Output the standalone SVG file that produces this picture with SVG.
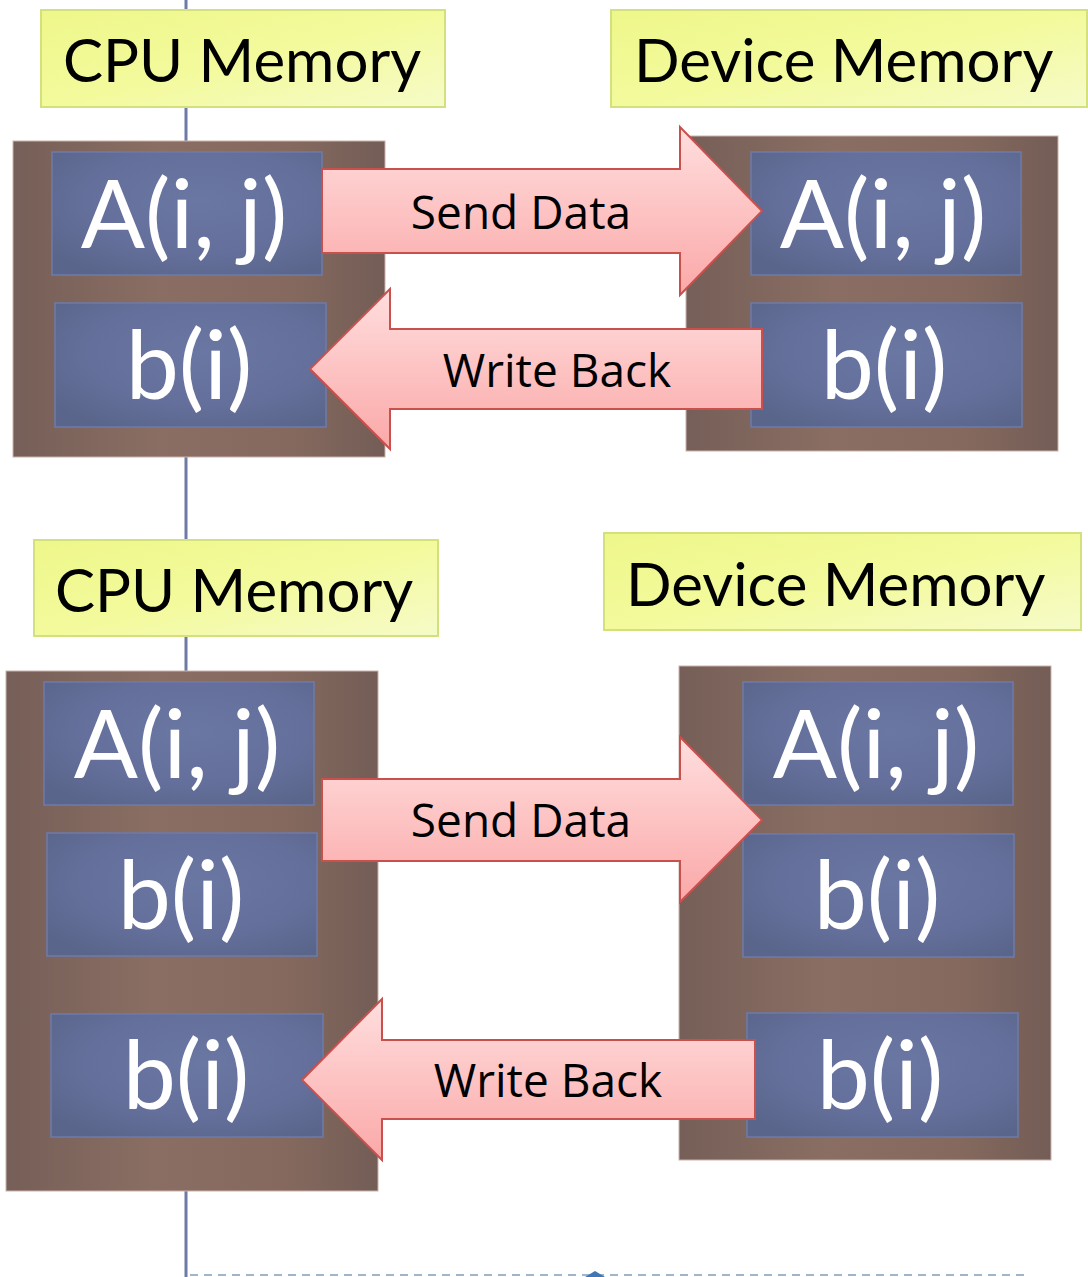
<svg xmlns="http://www.w3.org/2000/svg" width="1088" height="1277" viewBox="0 0 1088 1277">
<defs>
  <linearGradient id="gYellow" x1="0" y1="0" x2="1" y2="1">
    <stop offset="0" stop-color="#eef78a"/>
    <stop offset="0.5" stop-color="#f3fa9c"/>
    <stop offset="1" stop-color="#f6fbc8"/>
  </linearGradient>
  <linearGradient id="gBrown" x1="0" y1="0" x2="1" y2="0">
    <stop offset="0" stop-color="#765f58"/>
    <stop offset="0.4" stop-color="#8a6e63"/>
    <stop offset="0.75" stop-color="#85695e"/>
    <stop offset="1" stop-color="#735d56"/>
  </linearGradient>
  <radialGradient id="gBlue" cx="0.55" cy="0.4" r="0.7">
    <stop offset="0" stop-color="#6b77a3"/>
    <stop offset="0.6" stop-color="#64709b"/>
    <stop offset="1" stop-color="#5a658b"/>
  </radialGradient>
  <linearGradient id="gPink" x1="0" y1="0" x2="0" y2="1">
    <stop offset="0" stop-color="#ffdede"/>
    <stop offset="1" stop-color="#fba8a8"/>
  </linearGradient>
</defs>
<style>
  .label rect { fill: url(#gYellow); stroke: #d3e07c; stroke-width: 2; }
  .label text { font-family: Lato, "Open Sans", "DejaVu Sans", sans-serif; font-size: 60px; fill: #000; }
  .mem { fill: url(#gBrown); stroke: #c9b3ab; stroke-width: 1; }
  .cell rect { fill: url(#gBlue); stroke: #6e7bab; stroke-width: 1.5; }
  .cell text { font-family: Lato, "Open Sans", "DejaVu Sans", sans-serif; font-size: 95px; fill: #ffffff; text-anchor: middle; }
  .arrow path { fill: url(#gPink); stroke: #c9504d; stroke-width: 2; }
  .arrow text { font-family: "Open Sans", "Noto Sans", sans-serif; font-size: 46px; fill: #000; text-anchor: middle; }
</style>

<g id="connectors">
  <line id="lifeline" x1="186" y1="0" x2="186" y2="1277" stroke="#6e7aa6" stroke-width="3"/>
  <line id="dashline" x1="190" y1="1275" x2="1026" y2="1275" stroke="#9fb5cb" stroke-width="2" stroke-dasharray="8,6"/>
  <path id="dashmark" d="M585,1277 L595,1271 L605,1277 Z" fill="#3f78b4"/>
</g>

<!-- Top section -->
<g id="cpu-label-1" class="label">
  <rect x="41" y="10" width="404" height="97"/>
  <text x="63" y="82">CPU Memory</text>
</g>
<g id="dev-label-1" class="label">
  <rect x="611" y="10" width="476" height="97"/>
  <text x="634" y="82">Device Memory</text>
</g>

<g id="cpu-mem-1">
  <rect class="mem" x="13" y="141" width="372" height="316"/>
  <g class="cell"><rect x="52" y="152" width="270" height="123"/><text x="184" y="248">A(i, j)</text></g>
  <g class="cell"><rect x="55" y="303" width="271" height="124"/><text x="189" y="399">b(i)</text></g>
</g>
<g id="dev-mem-1">
  <rect class="mem" x="686" y="136" width="372" height="315"/>
  <g class="cell"><rect x="751" y="152" width="270" height="123"/><text x="883" y="248">A(i, j)</text></g>
  <g class="cell"><rect x="751" y="303" width="271" height="124"/><text x="884" y="399">b(i)</text></g>
</g>

<g id="send-1" class="arrow">
  <path d="M322,169 L680,169 L680,127 L762,211 L680,295 L680,253 L322,253 Z"/>
  <text x="521" y="229">Send Data</text>
</g>
<g id="write-1" class="arrow">
  <path d="M762,329 L390,329 L390,289 L310,369 L390,449 L390,409 L762,409 Z"/>
  <text x="557" y="387">Write Back</text>
</g>

<!-- Bottom section -->
<g id="cpu-label-2" class="label">
  <rect x="34" y="540" width="404" height="96"/>
  <text x="55" y="612">CPU Memory</text>
</g>
<g id="dev-label-2" class="label">
  <rect x="604" y="533" width="477" height="97"/>
  <text x="626" y="606">Device Memory</text>
</g>

<g id="cpu-mem-2">
  <rect class="mem" x="6" y="671" width="372" height="520"/>
  <g class="cell"><rect x="44" y="682" width="270" height="123"/><text x="177" y="778">A(i, j)</text></g>
  <g class="cell"><rect x="47" y="833" width="270" height="123"/><text x="181" y="929">b(i)</text></g>
  <g class="cell"><rect x="51" y="1014" width="272" height="123"/><text x="186" y="1109">b(i)</text></g>
</g>
<g id="dev-mem-2">
  <rect class="mem" x="679" y="666" width="372" height="494"/>
  <g class="cell"><rect x="743" y="682" width="270" height="123"/><text x="876" y="778">A(i, j)</text></g>
  <g class="cell"><rect x="743" y="834" width="271" height="123"/><text x="877" y="929">b(i)</text></g>
  <g class="cell"><rect x="747" y="1013" width="271" height="124"/><text x="880" y="1109">b(i)</text></g>
</g>

<g id="send-2" class="arrow">
  <path d="M322,779 L680,779 L680,737 L762,820 L680,902 L680,861 L322,861 Z"/>
  <text x="521" y="837">Send Data</text>
</g>
<g id="write-2" class="arrow">
  <path d="M755,1040 L382,1040 L382,999 L302,1080 L382,1160 L382,1119 L755,1119 Z"/>
  <text x="548" y="1097">Write Back</text>
</g>
</svg>
